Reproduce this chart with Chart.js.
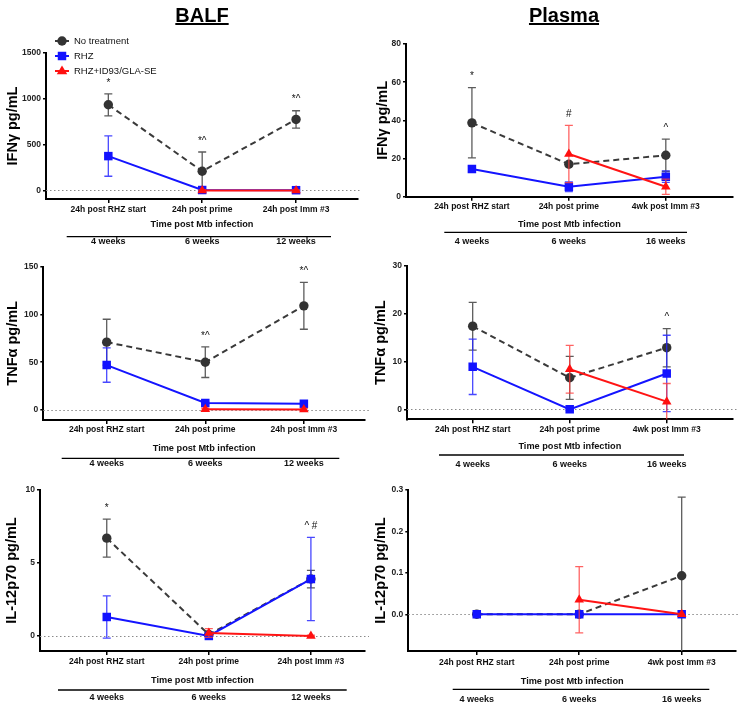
<!DOCTYPE html>
<html>
<head>
  <title>BALF and plasma cytokines</title>
  <script src="https://cdn.jsdelivr.net/npm/chart.js@4.4.0/dist/chart.umd.min.js"></script>
  <style>
    body { margin: 0; background: #fff; }
    #fig { position: relative; width: 742px; height: 708px; font-family: "Liberation Sans", Arial, sans-serif; }
    #fig canvas { position: absolute; }
    .head { position: absolute; top: 3px; width: 120px; margin-left: -60px; text-align: center;
            font-size: 20px; line-height: 24px; font-weight: bold; text-decoration: underline; }
  </style>
</head>
<body>
  <div id="fig">
    <div class="head" style="left:202px">BALF</div>
    <div class="head" style="left:564px">Plasma</div>
  </div>
  <script>
    // groups and axis labels
    var groups = ['No treatment', 'RHZ', 'RHZ+ID93/GLA-SE'];
    var timeBalf = ['24h post RHZ start', '24h post prime', '24h post Imm #3'];
    var timePlasma = ['24h post RHZ start', '24h post prime', '4wk post Imm #3'];
    var weeksBalf = ['4 weeks', '6 weeks', '12 weeks'];
    var weeksPlasma = ['4 weeks', '6 weeks', '16 weeks'];

    // rows = No treatment, RHZ, RHZ+ID93/GLA-SE ; null = not measured
    var ifnBalfMean = [[935, 210, 775], [375, 5, 3], [null, 0, 0]];
    var ifnBalfErr  = [[120, 210, 95], [220, 5, 5], [null, 5, 5]];
    var ifnBalfStars = ['*', '*^', '*^'];
    var ifnBalfTicks = [0, 500, 1000, 1500];

    var ifnPlasmaMean = [[38.7, 17, 21.7], [14.5, 5.2, 10.5], [null, 22.4, 5.2]];
    var ifnPlasmaErr  = [[18.4, 1, 8.5], [1.5, 2.5, 3], [null, 15, 4]];
    var ifnPlasmaStars = ['*', '#', '^'];
    var ifnPlasmaTicks = [0, 20, 40, 60, 80];

    var tnfBalfMean = [[71, 50, 109], [47, 7.3, 6.6], [null, 0.8, 0.6]];
    var tnfBalfErr  = [[24, 16, 24.5], [18, 1, 1], [null, 1, 1]];
    var tnfBalfStars = ['', '*^', '*^'];
    var tnfBalfTicks = [0, 50, 100, 150];

    var tnfPlasmaMean = [[17.4, 6.6, 12.9], [8.9, 0, 7.5], [null, 8.4, 1.6]];
    var tnfPlasmaErr  = [[5, 4.5, 4], [5.8, 0.2, 8], [null, 5, 3.8]];
    var tnfPlasmaStars = ['', '', '^'];
    var tnfPlasmaTicks = [0, 10, 20, 30];

    var il12BalfMean = [[6.7, 0.1, 3.9], [1.3, 0, 3.9], [null, 0.2, 0]];
    var il12BalfErr  = [[1.3, 0.1, 0.6], [1.45, 0.05, 2.85], [null, 0.3, 0.05]];
    var il12BalfStars = ['*', '', '^ #'];
    var il12BalfTicks = [0, 5, 10];

    var il12PlasmaMean = [[0, 0, 0.093], [0, 0, 0], [null, 0.035, 0]];
    var il12PlasmaErr  = [[0, 0, 0.19], [0, 0, 0], [null, 0.08, 0]];
    var il12PlasmaStars = ['', '', ''];
    var il12PlasmaTicks = [0, 0.1, 0.2, 0.3];

    var looks = [
      { color: '#333333', line: '#3a3a3a', bar: '#5c5c5c', shape: 'circle', r: 4.7, dash: [6, 4] },
      { color: '#1212ff', line: '#1414ff', bar: 'rgba(40,40,255,0.85)', shape: 'rect', r: 6, dash: [] },
      { color: '#ff1010', line: '#ff1414', bar: 'rgba(255,60,60,0.8)', shape: 'triangle', r: 5.5, dash: [] }
    ];

    var FONT = '"Liberation Sans", Arial, sans-serif';
    Chart.defaults.font.family = FONT;

    var panels = [
      { left: 0, top: 0, w: 371, h: 252, yTitle: 'IFNγ pg/mL', mean: ifnBalfMean, err: ifnBalfErr, stars: ifnBalfStars,
        yTicks: ifnBalfTicks, digits: 0, cats: timeBalf, weeks: weeksBalf, legend: true,
        yMin: -93, yMax: 1500, xMin: -0.664, xMax: 2.66, L: 46, R: 358, T: 53, B: 199,
        titleX: 13, tickY: 210, titleY: 224, lineY: 236.7, lineX: [66.7, 331], weekY: 242 },
      { left: 371, top: 0, w: 371, h: 252, yTitle: 'IFNγ pg/mL', mean: ifnPlasmaMean, err: ifnPlasmaErr, stars: ifnPlasmaStars,
        yTicks: ifnPlasmaTicks, digits: 0, cats: timePlasma, weeks: weeksPlasma,
        yMin: 0, yMax: 80, xMin: -0.68, xMax: 2.69, L: 35, R: 361.7, T: 44, B: 196.7,
        titleX: 12, tickY: 206.7, titleY: 224, lineY: 232.3, lineX: [73.3, 316], weekY: 242 },
      { left: 0, top: 252, w: 371, h: 220, yTitle: 'TNFα pg/mL', mean: tnfBalfMean, err: tnfBalfErr, stars: tnfBalfStars,
        yTicks: tnfBalfTicks, digits: 0, cats: timeBalf, weeks: weeksBalf,
        yMin: -10.5, yMax: 150, xMin: -0.643, xMax: 2.62, L: 43.3, R: 365, T: 14.7, B: 168,
        titleX: 12.7, tickY: 178, titleY: 196.3, lineY: 206.3, lineX: [61.7, 339.3], weekY: 212 },
      { left: 371, top: 252, w: 371, h: 220, yTitle: 'TNFα pg/mL', mean: tnfPlasmaMean, err: tnfPlasmaErr, stars: tnfPlasmaStars,
        yTicks: tnfPlasmaTicks, digits: 0, cats: timePlasma, weeks: weeksPlasma,
        yMin: -2.09, yMax: 30, xMin: -0.677, xMax: 2.68, L: 36, R: 361.7, T: 14, B: 167.3,
        titleX: 10, tickY: 177.3, titleY: 194.7, lineY: 203, lineX: [68, 313], weekY: 213 },
      { left: 0, top: 472, w: 371, h: 236, yTitle: 'IL-12p70 pg/mL', mean: il12BalfMean, err: il12BalfErr, stars: il12BalfStars,
        yTicks: il12BalfTicks, digits: 0, cats: timeBalf, weeks: weeksBalf,
        yMin: -1.03, yMax: 10, xMin: -0.654, xMax: 2.53, L: 40, R: 365, T: 18, B: 179,
        titleX: 12, tickY: 189.7, titleY: 208, lineY: 218, lineX: [58, 346.7], weekY: 225.3 },
      { left: 371, top: 472, w: 371, h: 236, yTitle: 'IL-12p70 pg/mL', mean: il12PlasmaMean, err: il12PlasmaErr, stars: il12PlasmaStars,
        yTicks: il12PlasmaTicks, digits: 1, cats: timePlasma, weeks: weeksPlasma,
        yMin: -0.0886, yMax: 0.3, xMin: -0.668, xMax: 2.53, L: 37.3, R: 366, T: 18, B: 179,
        titleX: 10, tickY: 190.7, titleY: 209, lineY: 217.3, lineX: [81.7, 338.3], weekY: 228 }
    ];

    function drawMarker(ctx, shape, x, y, r, color) {
      ctx.fillStyle = color;
      ctx.beginPath();
      if (shape === 'circle') {
        ctx.arc(x, y, r, 0, Math.PI * 2);
      } else if (shape === 'rect') {
        var s = r * Math.SQRT1_2;
        ctx.rect(x - s, y - s, 2 * s, 2 * s);
      } else {
        ctx.moveTo(x, y - r);
        ctx.lineTo(x + r * 0.95, y + r * 0.6);
        ctx.lineTo(x - r * 0.95, y + r * 0.6);
        ctx.closePath();
      }
      ctx.fill();
    }

    function extras(p) {
      return {
        id: 'extras',
        beforeDatasetsDraw: function(chart) {
          var ctx = chart.ctx, a = chart.chartArea, y = chart.scales.y;
          if (p.yMin < 0) {
            var y0 = Math.round(y.getPixelForValue(0)) + 0.5;
            ctx.save();
            ctx.strokeStyle = '#8a8a8a';
            ctx.lineWidth = 1;
            ctx.setLineDash([1.5, 2.5]);
            ctx.beginPath();
            ctx.moveTo(a.left, y0);
            ctx.lineTo(a.right + 4, y0);
            ctx.stroke();
            ctx.restore();
          }
        },
        beforeDatasetDraw: function(chart, args) {
          // error bars go under each series' own line and markers
          var ctx = chart.ctx, a = chart.chartArea, xs = chart.scales.x, ys = chart.scales.y;
          var s = args.index, m = p.mean[s], e = p.err[s];
          ctx.save();
          ctx.beginPath();
          ctx.rect(a.left, a.top - 2, a.right - a.left, a.bottom - a.top + 2);
          ctx.clip();
          ctx.strokeStyle = looks[s].bar;
          ctx.lineWidth = 1.3;
          for (var i = 0; i < m.length; i++) {
            if (m[i] === null || !e[i]) continue;
            var x = xs.getPixelForValue(i);
            var top = ys.getPixelForValue(m[i] + e[i]);
            var bot = ys.getPixelForValue(m[i] - e[i]);
            ctx.beginPath();
            ctx.moveTo(x, top); ctx.lineTo(x, bot);
            ctx.moveTo(x - 4, top); ctx.lineTo(x + 4, top);
            ctx.moveTo(x - 4, bot); ctx.lineTo(x + 4, bot);
            ctx.stroke();
          }
          ctx.restore();
        },
        afterDraw: function(chart) {
          var ctx = chart.ctx, xs = chart.scales.x, ys = chart.scales.y;
          ctx.save();
          ctx.fillStyle = '#111';
          ctx.textAlign = 'center';
          ctx.textBaseline = 'middle';

          // significance marks above the highest whisker
          ctx.font = '10px ' + FONT;
          p.stars.forEach(function(t, i) {
            if (!t) return;
            var hi = -Infinity;
            p.mean.forEach(function(row, s) {
              if (row[i] !== null) hi = Math.max(hi, row[i] + p.err[s][i]);
            });
            ctx.fillText(t, xs.getPixelForValue(i), ys.getPixelForValue(hi) - 11);
          });

          // second time axis in weeks
          ctx.strokeStyle = '#000';
          ctx.lineWidth = 1.3;
          ctx.beginPath();
          ctx.moveTo(p.lineX[0], p.lineY);
          ctx.lineTo(p.lineX[1], p.lineY);
          ctx.stroke();
          ctx.font = 'bold 9px ' + FONT;
          p.weeks.forEach(function(t, i) {
            ctx.fillText(t, xs.getPixelForValue(i), p.weekY);
          });

          if (p.legend) {
            ctx.textAlign = 'left';
            ctx.font = '9.5px ' + FONT;
            groups.forEach(function(g, s) {
              var ly = 41 + s * 15;
              ctx.strokeStyle = looks[s].line;
              ctx.lineWidth = 2;
              ctx.beginPath();
              ctx.moveTo(55, ly); ctx.lineTo(69, ly);
              ctx.stroke();
              drawMarker(ctx, looks[s].shape, 62, ly, looks[s].r, looks[s].color);
              ctx.fillStyle = '#111';
              ctx.fillText(g, 74, ly);
            });
          }
          ctx.restore();
        }
      };
    }

    var fig = document.getElementById('fig');

    panels.forEach(function(p) {
      var cv = document.createElement('canvas');
      cv.width = p.w;
      cv.height = p.h;
      cv.style.left = p.left + 'px';
      cv.style.top = p.top + 'px';
      fig.insertBefore(cv, fig.firstChild);

      var tickFont = { size: 8.5, weight: 'bold' };
      var xTitleFont = { size: 9.2, weight: 'bold' };
      var yTitleFont = { size: 14.5, weight: 'bold' };
      var tickPad = p.tickY - p.B - 4 - tickFont.size * 1.2 / 2;
      var xH = p.titleY - p.B + xTitleFont.size * 1.2 / 2;

      var datasets = p.mean.map(function(row, s) {
        return {
          label: groups[s],
          data: row.map(function(v, i) { return { x: i, y: v }; }),
          borderColor: looks[s].line,
          borderWidth: 2,
          borderDash: looks[s].dash,
          pointStyle: looks[s].shape,
          pointRadius: looks[s].r,
          pointBackgroundColor: looks[s].color,
          pointBorderColor: looks[s].color,
          pointBorderWidth: 0,
          tension: 0,
          fill: false,
          order: 3 - s
        };
      });

      new Chart(cv, {
        type: 'line',
        data: { datasets: datasets },
        options: {
          responsive: false,
          animation: false,
          layout: { padding: { left: 0, top: p.T, right: p.w - p.R, bottom: p.h - p.B - xH } },
          plugins: { legend: { display: false }, tooltip: { enabled: false } },
          scales: {
            x: {
              type: 'linear',
              min: p.xMin,
              max: p.xMax,
              afterBuildTicks: function(s) { s.ticks = p.cats.map(function(c, i) { return { value: i }; }); },
              afterFit: function(s) { s.height = xH; },
              ticks: {
                callback: function(v) { return p.cats[v]; },
                font: tickFont, color: '#111', padding: tickPad,
                maxRotation: 0, autoSkip: false
              },
              grid: { drawOnChartArea: false, tickLength: 4, color: '#000', lineWidth: 1.5 },
              border: { color: '#000', width: 2 },
              title: { display: true, text: 'Time post Mtb infection', font: xTitleFont, color: '#111',
                       padding: { top: 0, bottom: 0 } }
            },
            y: {
              min: p.yMin,
              max: p.yMax,
              afterBuildTicks: function(s) { s.ticks = p.yTicks.map(function(v) { return { value: v }; }); },
              afterFit: function(s) { s.width = p.L; },
              ticks: {
                callback: function(v) { return v.toFixed(p.digits); },
                font: { size: 8.5, weight: 'bold' }, color: '#222', padding: 2
              },
              grid: { drawOnChartArea: false, tickLength: 3, color: '#000', lineWidth: 1.5 },
              border: { color: '#000', width: 2 },
              title: { display: true, text: p.yTitle, font: yTitleFont, color: '#000',
                       padding: { top: p.titleX - yTitleFont.size * 1.2 / 2, bottom: 0 } }
            }
          }
        },
        plugins: [extras(p)]
      });
    });
  </script>
</body>
</html>
